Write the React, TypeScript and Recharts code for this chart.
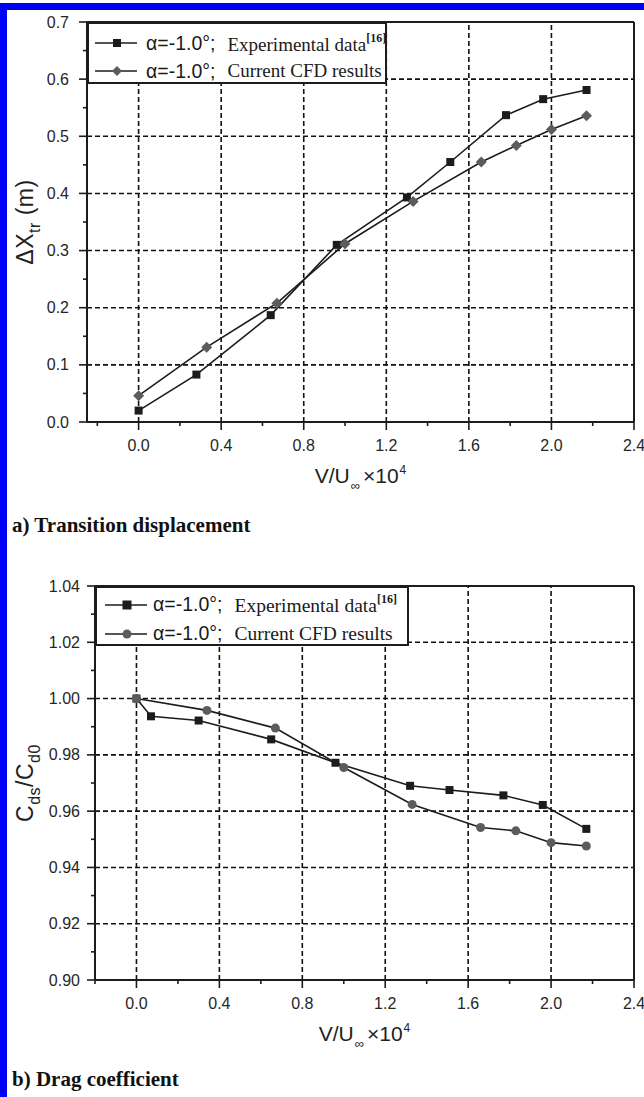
import { LineChart, Line, XAxis, YAxis, ReferenceLine, Legend } from 'recharts';
import type { ReactNode } from 'react';

const INK = '#1c1c1c';
const GREY = '#5c5c5c';
const SANS = '"Liberation Sans", Arial, sans-serif';
const SERIF = '"Liberation Serif", "Times New Roman", serif';

// a) transition displacement: v/U∞ x 10^4 against ΔX_tr (m)
const dispExpX = [0.0, 0.28, 0.64, 0.96, 1.3, 1.51, 1.78, 1.96, 2.17];
const dispExpY = [0.02, 0.083, 0.187, 0.31, 0.393, 0.455, 0.537, 0.565, 0.581];
const dispCfdX = [0.0, 0.33, 0.67, 1.0, 1.33, 1.66, 1.83, 2.0, 2.17];
const dispCfdY = [0.046, 0.131, 0.208, 0.312, 0.386, 0.455, 0.484, 0.512, 0.536];

// b) drag coefficient ratio C_ds / C_d0
const dragExpX = [0.0, 0.07, 0.3, 0.65, 0.96, 1.32, 1.51, 1.77, 1.96, 2.17];
const dragExpY = [1.0, 0.9937, 0.9922, 0.9855, 0.9772, 0.969, 0.9675, 0.9656, 0.9622, 0.9537];
const dragCfdX = [0.0, 0.34, 0.67, 1.0, 1.33, 1.66, 1.83, 2.0, 2.17];
const dragCfdY = [1.0, 0.9958, 0.9895, 0.9755, 0.9624, 0.9542, 0.953, 0.9488, 0.9476];

// axis ticks (minor + major) and the labelled ones
const xTicksA = [-0.2, 0, 0.2, 0.4, 0.6, 0.8, 1.0, 1.2, 1.4, 1.6, 1.8, 2.0, 2.2, 2.4];
const xTicksB = [-0.2, 0, 0.2, 0.4, 0.6, 0.8, 1.0, 1.2, 1.4, 1.6, 1.8, 2.0, 2.2, 2.4];
const xLabels = ['0.0', '0.4', '0.8', '1.2', '1.6', '2.0', '2.4'];
const xGrid = [0, 0.4, 0.8, 1.2, 1.6, 2.0];

const yTicksA = [0, 0.05, 0.1, 0.15, 0.2, 0.25, 0.3, 0.35, 0.4, 0.45, 0.5, 0.55, 0.6, 0.65, 0.7];
const yLabelsA = ['0.0', '0.1', '0.2', '0.3', '0.4', '0.5', '0.6', '0.7'];
const yGridA = [0.1, 0.2, 0.3, 0.4, 0.5, 0.6];

const yTicksB = [0.9, 0.91, 0.92, 0.93, 0.94, 0.95, 0.96, 0.97, 0.98, 0.99, 1.0, 1.01, 1.02, 1.03, 1.04];
const yLabelsB = ['0.90', '0.92', '0.94', '0.96', '0.98', '1.00', '1.02', '1.04'];
const yGridB = [0.92, 0.94, 0.96, 0.98, 1.0, 1.02];

const expName = 'Experimental data';
const cfdName = 'Current CFD results';
const caseLabel = 'α=-1.0°;';
const refTag = '[16]';

const toPoints = (xs: number[], ys: number[]) => xs.map((x, i) => ({ x, y: ys[i] }));

const isMajor = (v: number, labels: string[], digits: number) => {
  const s = v.toFixed(digits);
  return labels.includes(s) && Math.abs(Number(s) - v) < 1e-9;
};

const makeXTick = (labels: string[]) => (props: any) => {
  const { x, y, payload } = props;
  const major = isMajor(payload.value, labels, 1);
  return (
    <g>
      <line x1={x} x2={x} y1={y} y2={y + (major ? 8 : 4)} stroke={INK} strokeWidth={1.6} />
      {major && (
        <text x={x} y={y + 29} textAnchor="middle" fontSize={16} fontFamily={SANS} fill="#262626">
          {payload.value.toFixed(1)}
        </text>
      )}
    </g>
  );
};

const makeYTick = (labels: string[], digits: number, gap: number) => (props: any) => {
  const { x, y, payload } = props;
  const major = isMajor(payload.value, labels, digits);
  return (
    <g>
      <line x1={x} x2={x - (major ? 8 : 4)} y1={y} y2={y} stroke={INK} strokeWidth={1.6} />
      {major && (
        <text x={x - gap} y={y + 5.5} textAnchor="end" fontSize={16} fontFamily={SANS} fill="#262626">
          {payload.value.toFixed(digits)}
        </text>
      )}
    </g>
  );
};

// series markers
const squareDot = (size: number) => (p: any) => (
  <rect key={`sq-${p.index}`} x={p.cx - size / 2} y={p.cy - size / 2} width={size} height={size} fill={INK} />
);
const diamondDot = (r: number) => (p: any) => (
  <path
    key={`dm-${p.index}`}
    d={`M${p.cx},${p.cy - r}L${p.cx + r},${p.cy}L${p.cx},${p.cy + r}L${p.cx - r},${p.cy}Z`}
    fill={GREY}
  />
);
const circleDot = (r: number) => (p: any) => <circle key={`ci-${p.index}`} cx={p.cx} cy={p.cy} r={r} fill={GREY} />;

const XTitle = ({ viewBox }: any) => (
  <text
    x={viewBox.x + viewBox.width / 2}
    y={viewBox.y + 61}
    textAnchor="middle"
    fontFamily={SANS}
    fontSize={21}
    fill="#222"
  >
    V/U
    <tspan dy={7} dx={1} fontSize={13}>∞</tspan>
    <tspan dy={-7} dx={3}>×10</tspan>
    <tspan dy={-9} dx={1} fontSize={12}>4</tspan>
  </text>
);

const yTitle = (content: ReactNode) => ({ viewBox }: any) => {
  const cy = viewBox.y + viewBox.height / 2;
  return (
    <text
      transform={`translate(33,${cy}) rotate(-90)`}
      textAnchor="middle"
      fontFamily={SANS}
      fontSize={23}
      letterSpacing={0.5}
      fill="#222"
    >
      {content}
    </text>
  );
};

const dispTitle = (
  <>
    ΔX<tspan dy={7} fontSize={16}>tr</tspan>
    <tspan dy={-7}> (m)</tspan>
  </>
);
const dragTitle = (
  <>
    C<tspan dy={7} fontSize={16}>ds</tspan>
    <tspan dy={-7}>/C</tspan>
    <tspan dy={7} fontSize={16}>d0</tspan>
  </>
);

type Row = { name: string; sup?: string; marker: (cx: number, cy: number) => ReactNode };

type LegendBoxProps = {
  rows: Row[];
  width: number;
  height: number;
  padTop: number;
  padLeft: number;
  rowH: number;
  caseGap: number;
  nameGap: number;
  nameSize: number;
};

const LegendBox = ({ rows, width, height, padTop, padLeft, rowH, caseGap, nameGap, nameSize }: LegendBoxProps) => (
  <div
    style={{
      width,
      height,
      boxSizing: 'border-box',
      border: `2px solid ${INK}`,
      background: '#fff',
      padding: `${padTop}px 0 0 ${padLeft}px`,
      color: '#1a1a1a',
      whiteSpace: 'nowrap',
    }}
  >
    {rows.map((r) => (
      <div key={r.name} style={{ display: 'flex', alignItems: 'center', height: rowH }}>
        <svg width={42} height={16} style={{ flex: 'none' }}>
          <line x1={0} x2={42} y1={8} y2={8} stroke={INK} strokeWidth={1.6} />
          {r.marker(22, 8)}
        </svg>
        <span style={{ fontFamily: SANS, fontSize: 19.5, marginLeft: caseGap }}>{caseLabel}</span>
        <span style={{ fontFamily: SERIF, fontSize: nameSize, marginLeft: nameGap }}>
          {r.name}
          {r.sup && <sup style={{ fontSize: 12, fontWeight: 'bold', verticalAlign: '9px' }}>{r.sup}</sup>}
        </span>
      </div>
    ))}
  </div>
);

type PanelProps = {
  top: number;
  plotTop: number;
  yWidth: number;
  xAxisHeight: number;
  xDomain: [number, number];
  xTicks: number[];
  yDomain: [number, number];
  yTicks: number[];
  yLabels: string[];
  yDigits: number;
  yGap: number;
  yGrid: number[];
  title: ReactNode;
  exp: { x: number; y: number }[];
  cfd: { x: number; y: number }[];
  cfdDot: (p: any) => ReactNode;
  legend: ReactNode;
  legendW: number;
  legendH: number;
};

const Panel = (p: PanelProps) => (
  <div style={{ position: 'absolute', left: 0, top: p.top }}>
    <LineChart width={644} height={500} margin={{ top: p.plotTop, right: 10, left: 0, bottom: 0 }}>
      <XAxis
        dataKey="x"
        type="number"
        domain={p.xDomain}
        ticks={p.xTicks}
        interval={0}
        allowDataOverflow
        height={p.xAxisHeight}
        tickSize={0}
        tickMargin={0}
        tickLine={false}
        axisLine={{ stroke: INK, strokeWidth: 2 }}
        tick={makeXTick(xLabels)}
        label={XTitle}
      />
      <YAxis
        type="number"
        domain={p.yDomain}
        ticks={p.yTicks}
        interval={0}
        allowDataOverflow
        width={p.yWidth}
        tickSize={0}
        tickMargin={0}
        tickLine={false}
        axisLine={{ stroke: INK, strokeWidth: 2 }}
        tick={makeYTick(p.yLabels, p.yDigits, p.yGap)}
        label={yTitle(p.title)}
      />
      {p.yGrid.map((v) => (
        <ReferenceLine key={`h${v}`} y={v} stroke="#111" strokeWidth={1.6} strokeDasharray="5 3" />
      ))}
      {xGrid.map((v) => (
        <ReferenceLine key={`v${v}`} x={v} stroke="#111" strokeWidth={1.6} strokeDasharray="5 3" />
      ))}
      <ReferenceLine y={p.yDomain[1]} stroke={INK} strokeWidth={2} />
      <ReferenceLine x={p.xDomain[1]} stroke={INK} strokeWidth={2} />
      <Line
        data={p.exp}
        dataKey="y"
        type="linear"
        stroke={INK}
        strokeWidth={1.6}
        dot={squareDot(8)}
        activeDot={false}
        isAnimationActive={false}
      />
      <Line
        data={p.cfd}
        dataKey="y"
        type="linear"
        stroke={INK}
        strokeWidth={1.6}
        dot={p.cfdDot}
        activeDot={false}
        isAnimationActive={false}
      />
      <Legend
        layout="vertical"
        align="center"
        verticalAlign="middle"
        wrapperStyle={{ left: p.yWidth, top: p.plotTop, width: p.legendW, height: p.legendH }}
        content={() => p.legend}
      />
    </LineChart>
  </div>
);

const captionStyle = {
  position: 'absolute' as const,
  left: 12,
  fontFamily: SERIF,
  fontWeight: 'bold' as const,
  fontSize: 21,
  lineHeight: '21px',
  color: '#111',
  whiteSpace: 'nowrap' as const,
};

export default function App() {
  const legendA = (
    <LegendBox
      width={300}
      height={62}
      padTop={5}
      padLeft={6}
      rowH={28}
      caseGap={9}
      nameGap={12}
      nameSize={19}
      rows={[
        { name: expName, sup: refTag, marker: (cx, cy) => <rect x={cx - 4} y={cy - 4} width={8} height={8} fill={INK} /> },
        {
          name: cfdName,
          marker: (cx, cy) => <path d={`M${cx},${cy - 5}L${cx + 5},${cy}L${cx},${cy + 5}L${cx - 5},${cy}Z`} fill={GREY} />,
        },
      ]}
    />
  );
  const legendB = (
    <LegendBox
      width={314}
      height={60}
      padTop={2}
      padLeft={8}
      rowH={29}
      caseGap={6}
      nameGap={12}
      nameSize={19.5}
      rows={[
        { name: expName, sup: refTag, marker: (cx, cy) => <rect x={cx - 4.5} y={cy - 4.5} width={9} height={9} fill={INK} /> },
        { name: cfdName, marker: (cx, cy) => <circle cx={cx} cy={cy} r={4.5} fill={GREY} /> },
      ]}
    />
  );

  return (
    <div style={{ position: 'absolute', left: 0, top: 0, width: 644, height: 1097, background: '#fff', overflow: 'hidden' }}>
      <div style={{ position: 'absolute', left: 0, top: 3, width: 644, height: 7, background: '#0000f4' }} />
      <div style={{ position: 'absolute', left: 0, top: 3, width: 7, height: 1094, background: '#0000f4' }} />

      <Panel
        top={0}
        plotTop={22}
        yWidth={87}
        xAxisHeight={78}
        xDomain={[-0.25, 2.4]}
        xTicks={xTicksA}
        yDomain={[0, 0.7]}
        yTicks={yTicksA}
        yLabels={yLabelsA}
        yDigits={1}
        yGap={18}
        yGrid={yGridA}
        title={dispTitle}
        exp={toPoints(dispExpX, dispExpY)}
        cfd={toPoints(dispCfdX, dispCfdY)}
        cfdDot={diamondDot(5.5)}
        legend={legendA}
        legendW={300}
        legendH={62}
      />
      <div style={{ ...captionStyle, top: 515 }}>a) Transition displacement</div>

      <Panel
        top={560}
        plotTop={26}
        yWidth={95}
        xAxisHeight={80}
        xDomain={[-0.2, 2.4]}
        xTicks={xTicksB}
        yDomain={[0.9, 1.04]}
        yTicks={yTicksB}
        yLabels={yLabelsB}
        yDigits={2}
        yGap={15}
        yGrid={yGridB}
        title={dragTitle}
        exp={toPoints(dragExpX, dragExpY)}
        cfd={toPoints(dragCfdX, dragCfdY)}
        cfdDot={circleDot(4.5)}
        legend={legendB}
        legendW={314}
        legendH={60}
      />
      <div style={{ ...captionStyle, top: 1069 }}>b) Drag coefficient</div>
    </div>
  );
}
